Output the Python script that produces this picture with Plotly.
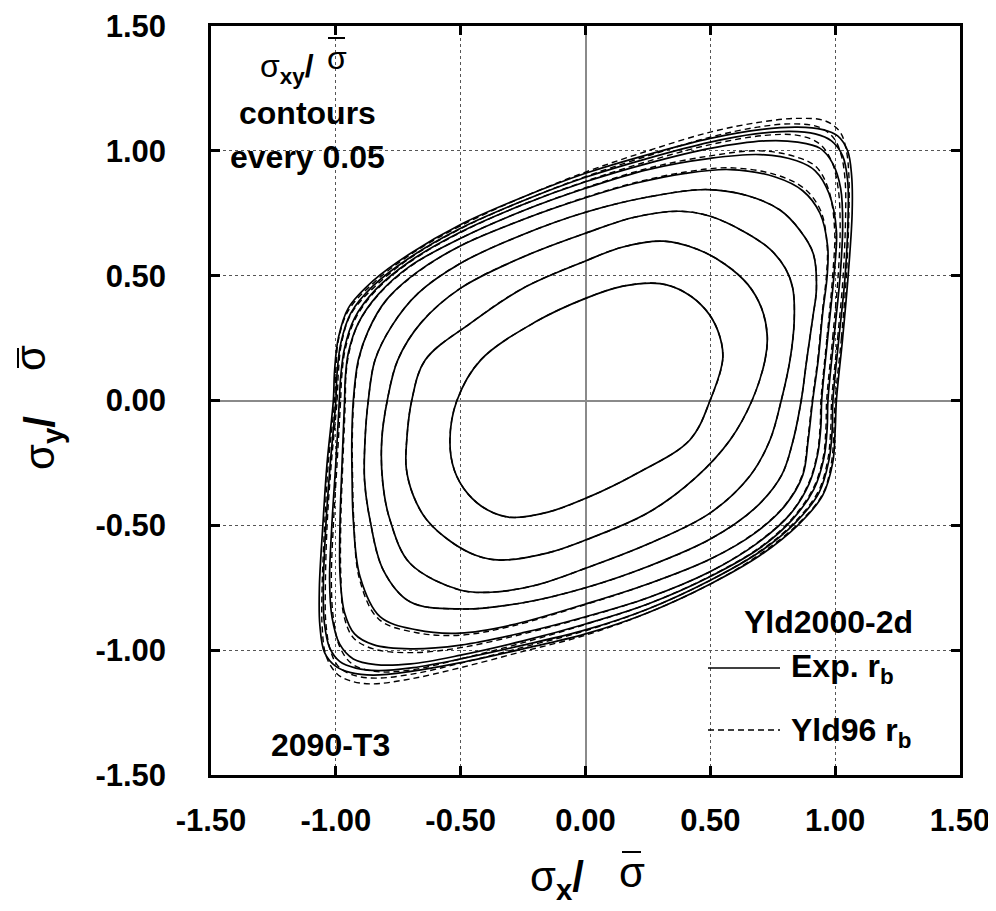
import plotly.graph_objects as go

# ---------------- data ----------------
LEVELS = [0.00, 0.05, 0.10, 0.15, 0.20, 0.25, 0.30, 0.35, 0.40]   # sigma_xy / sigma_bar
TICK_VALS = [-1.5, -1.0, -0.5, 0.0, 0.5, 1.0, 1.5]
TICK_TEXT = ["-1.50", "-1.00", "-0.50", "0.00", "0.50", "1.00", "1.50"]

# Yld2000-2d with experimental r_b (solid)
EXP_000 = [(1.005, 0.00), (1.030, 0.25), (1.052, 0.50), (1.068, 0.75), (1.066, 0.90), (1.050, 1.00),
           (1.010, 1.060), (0.950, 1.085), (0.850, 1.095), (0.700, 1.085), (0.500, 1.050), (0.250, 0.985),
           (0.000, 0.910), (-0.250, 0.815), (-0.500, 0.705), (-0.700, 0.590), (-0.850, 0.480), (-0.950, 0.370),
           (-0.990, 0.250), (-1.005, 0.120), (-1.010, 0.000), (-1.035, -0.250), (-1.052, -0.500), (-1.066, -0.750),
           (-1.064, -0.900), (-1.045, -1.010), (-1.000, -1.065), (-0.940, -1.090), (-0.850, -1.100), (-0.700, -1.085),
           (-0.500, -1.050), (-0.250, -0.995), (0.000, -0.935), (0.250, -0.850), (0.500, -0.735), (0.700, -0.620),
           (0.850, -0.500), (0.950, -0.380), (0.990, -0.250), (1.000, -0.120)]
EXP_005 = [(0.991, 0.00), (1.015, 0.25), (1.040, 0.50), (1.052, 0.75), (1.050, 0.88), (1.030, 0.98),
           (0.985, 1.040), (0.920, 1.068), (0.820, 1.078), (0.680, 1.068), (0.500, 1.035), (0.250, 0.970),
           (0.000, 0.894), (-0.250, 0.800), (-0.500, 0.690), (-0.700, 0.575), (-0.850, 0.460), (-0.940, 0.350),
           (-0.980, 0.230), (-0.995, 0.110), (-1.000, 0.000), (-1.022, -0.250), (-1.040, -0.500), (-1.050, -0.750),
           (-1.046, -0.890), (-1.025, -0.990), (-0.985, -1.045), (-0.920, -1.072), (-0.830, -1.082), (-0.690, -1.070),
           (-0.500, -1.035), (-0.250, -0.980), (0.000, -0.919), (0.250, -0.835), (0.500, -0.720), (0.700, -0.605),
           (0.840, -0.490), (0.935, -0.370), (0.975, -0.240), (0.988, -0.120)]
EXP_010 = [(0.971, 0.00), (0.995, 0.25), (1.020, 0.50), (1.030, 0.70), (1.022, 0.85), (0.990, 0.950),
           (0.940, 1.010), (0.850, 1.035), (0.720, 1.040), (0.500, 1.010), (0.250, 0.950), (0.000, 0.876),
           (-0.250, 0.785), (-0.500, 0.675), (-0.700, 0.560), (-0.840, 0.445), (-0.925, 0.330), (-0.965, 0.210),
           (-0.980, 0.100), (-0.986, 0.000), (-1.000, -0.250), (-1.016, -0.500), (-1.025, -0.720), (-1.015, -0.870),
           (-0.985, -0.975), (-0.930, -1.035), (-0.840, -1.058), (-0.700, -1.055), (-0.500, -1.020), (-0.250, -0.963),
           (0.000, -0.895), (0.250, -0.815), (0.500, -0.705), (0.700, -0.590), (0.830, -0.475), (0.915, -0.355),
           (0.955, -0.230), (0.968, -0.110)]
EXP_015 = [(0.946, 0.00), (0.970, 0.25), (0.995, 0.50), (1.005, 0.68), (0.975, 0.830), (0.920, 0.920),
           (0.846, 0.960), (0.700, 0.985), (0.500, 0.970), (0.250, 0.925), (0.000, 0.850), (-0.250, 0.760),
           (-0.500, 0.650), (-0.700, 0.540), (-0.830, 0.425), (-0.910, 0.310), (-0.950, 0.190), (-0.962, 0.090),
           (-0.965, 0.000), (-0.975, -0.250), (-0.983, -0.480), (-0.983, -0.700), (-0.965, -0.850), (-0.925, -0.935),
           (-0.850, -0.978), (-0.700, -0.995), (-0.500, -0.980), (-0.250, -0.930), (0.000, -0.866), (0.250, -0.790),
           (0.500, -0.685), (0.690, -0.570), (0.820, -0.455), (0.895, -0.335), (0.930, -0.215), (0.943, -0.100)]
EXP_020 = [(0.910, 0.00), (0.932, 0.162), (0.950, 0.35), (0.968, 0.50), (0.970, 0.616), (0.939, 0.750),
           (0.870, 0.840), (0.760, 0.895), (0.579, 0.925), (0.400, 0.910), (0.200, 0.870), (0.000, 0.812),
           (-0.250, 0.725), (-0.500, 0.620), (-0.680, 0.510), (-0.800, 0.400), (-0.870, 0.280), (-0.910, 0.162),
           (-0.930, 0.000), (-0.936, -0.158), (-0.935, -0.300), (-0.930, -0.479), (-0.903, -0.706), (-0.823, -0.866),
           (-0.676, -0.919), (-0.503, -0.932), (-0.300, -0.900), (0.000, -0.815), (0.250, -0.735), (0.500, -0.635),
           (0.680, -0.530), (0.800, -0.420), (0.870, -0.300), (0.892, -0.158)]
EXP_025 = [(0.864, 0.00), (0.886, 0.162), (0.910, 0.33), (0.925, 0.45), (0.912, 0.589), (0.860, 0.680),
           (0.779, 0.763), (0.650, 0.820), (0.485, 0.845), (0.250, 0.815), (0.000, 0.754), (-0.250, 0.665),
           (-0.500, 0.550), (-0.670, 0.430), (-0.775, 0.300), (-0.843, 0.162), (-0.870, 0.000), (-0.883, -0.158),
           (-0.885, -0.320), (-0.863, -0.479), (-0.810, -0.679), (-0.703, -0.806), (-0.503, -0.835), (-0.250, -0.810),
           (0.000, -0.750), (0.250, -0.665), (0.500, -0.555), (0.680, -0.430), (0.785, -0.300), (0.832, -0.158)]
EXP_030 = [(0.784, 0.00), (0.819, 0.162), (0.836, 0.320), (0.830, 0.450), (0.800, 0.530), (0.740, 0.605),
           (0.646, 0.670), (0.500, 0.738), (0.378, 0.758), (0.200, 0.735), (0.000, 0.670), (-0.250, 0.575),
           (-0.500, 0.450), (-0.660, 0.310), (-0.752, 0.162), (-0.794, 0.000), (-0.816, -0.158), (-0.812, -0.330),
           (-0.783, -0.479), (-0.703, -0.652), (-0.503, -0.759), (-0.380, -0.768), (-0.200, -0.740), (0.000, -0.672),
           (0.250, -0.575), (0.500, -0.450), (0.660, -0.300), (0.739, -0.158)]
EXP_035 = [(0.667, 0.000), (0.719, 0.162), (0.728, 0.260), (0.705, 0.370), (0.650, 0.465), (0.560, 0.545),
           (0.450, 0.605), (0.312, 0.638), (0.150, 0.615), (0.000, 0.559), (-0.250, 0.450), (-0.460, 0.310),
           (-0.642, 0.162), (-0.696, 0.000), (-0.716, -0.158), (-0.718, -0.270), (-0.690, -0.380), (-0.636, -0.478),
           (-0.540, -0.565), (-0.440, -0.620), (-0.342, -0.639), (-0.150, -0.610), (0.000, -0.559), (0.250, -0.450),
           (0.440, -0.310), (0.579, -0.158)]
EXP_040 = [(0.499, 0.000), (0.550, 0.170), (0.530, 0.280), (0.480, 0.365), (0.400, 0.432), (0.300, 0.468),
           (0.150, 0.458), (0.000, 0.409), (-0.200, 0.315), (-0.420, 0.162), (-0.515, 0.000), (-0.543, -0.158),
           (-0.525, -0.280), (-0.470, -0.375), (-0.390, -0.440), (-0.300, -0.468), (-0.150, -0.447), (0.000, -0.392),
           (0.200, -0.295), (0.418, -0.158)]

# Yld2000-2d with r_b from Yld96 (dashed)
YLD96_000 = [(1.000, 0.00), (1.025, 0.25), (1.045, 0.50), (1.055, 0.75), (1.055, 0.90), (1.045, 1.00),
             (1.020, 1.075), (0.960, 1.120), (0.850, 1.130), (0.700, 1.115), (0.500, 1.075), (0.250, 1.000),
             (0.000, 0.915), (-0.250, 0.815), (-0.500, 0.700), (-0.700, 0.585), (-0.850, 0.470), (-0.950, 0.360),
             (-0.990, 0.240), (-1.000, 0.120), (-1.005, 0.000), (-1.030, -0.250), (-1.045, -0.500), (-1.055, -0.750),
             (-1.055, -0.900), (-1.040, -1.020), (-1.000, -1.090), (-0.950, -1.120), (-0.860, -1.135), (-0.700, -1.115),
             (-0.500, -1.070), (-0.250, -1.005), (0.000, -0.940), (0.250, -0.850), (0.500, -0.735), (0.700, -0.615),
             (0.850, -0.495), (0.950, -0.375), (0.985, -0.250), (0.995, -0.120)]
YLD96_005 = [(0.986, 0.00), (1.010, 0.25), (1.032, 0.50), (1.042, 0.75), (1.040, 0.88), (1.025, 0.98),
             (0.995, 1.050), (0.935, 1.095), (0.830, 1.108), (0.690, 1.095), (0.500, 1.055), (0.250, 0.980),
             (0.000, 0.897), (-0.250, 0.800), (-0.500, 0.688), (-0.700, 0.572), (-0.845, 0.455), (-0.940, 0.345),
             (-0.978, 0.225), (-0.990, 0.110), (-0.995, 0.000), (-1.018, -0.250), (-1.035, -0.500), (-1.042, -0.750),
             (-1.040, -0.890), (-1.022, -1.000), (-0.990, -1.065), (-0.930, -1.100), (-0.840, -1.112), (-0.690, -1.095),
             (-0.500, -1.052), (-0.250, -0.988), (0.000, -0.922), (0.250, -0.835), (0.500, -0.720), (0.700, -0.602),
             (0.840, -0.485), (0.932, -0.365), (0.970, -0.240), (0.982, -0.120)]
YLD96_010 = [(0.966, 0.00), (0.990, 0.25), (1.012, 0.50), (1.020, 0.70), (1.012, 0.85), (0.985, 0.960),
             (0.935, 1.030), (0.850, 1.062), (0.720, 1.062), (0.500, 1.025), (0.250, 0.958), (0.000, 0.878),
             (-0.250, 0.785), (-0.500, 0.673), (-0.700, 0.557), (-0.838, 0.442), (-0.922, 0.327), (-0.962, 0.207),
             (-0.976, 0.100), (-0.981, 0.000), (-0.995, -0.250), (-1.010, -0.500), (-1.018, -0.720), (-1.010, -0.870),
             (-0.985, -0.985), (-0.935, -1.055), (-0.845, -1.085), (-0.705, -1.080), (-0.500, -1.035), (-0.250, -0.970),
             (0.000, -0.897), (0.250, -0.815), (0.500, -0.703), (0.700, -0.587), (0.828, -0.472), (0.912, -0.352),
             (0.952, -0.228), (0.963, -0.110)]
YLD96_015 = [(0.943, 0.00), (0.967, 0.25), (0.990, 0.50), (0.998, 0.68), (0.975, 0.840), (0.925, 0.935),
             (0.846, 0.975), (0.700, 1.000), (0.500, 0.980), (0.250, 0.930), (0.000, 0.852), (-0.250, 0.760),
             (-0.500, 0.650), (-0.700, 0.538), (-0.830, 0.423), (-0.910, 0.308), (-0.948, 0.188), (-0.960, 0.090),
             (-0.962, 0.000), (-0.972, -0.250), (-0.980, -0.480), (-0.980, -0.700), (-0.968, -0.860), (-0.930, -0.950),
             (-0.850, -0.995), (-0.700, -1.010), (-0.500, -0.990), (-0.250, -0.935), (0.000, -0.868), (0.250, -0.790),
             (0.500, -0.685), (0.690, -0.568), (0.820, -0.453), (0.893, -0.333), (0.928, -0.213), (0.940, -0.100)]
YLD96_020 = [(0.908, 0.00), (0.930, 0.162), (0.948, 0.35), (0.965, 0.50), (0.968, 0.616), (0.942, 0.760),
             (0.875, 0.850), (0.760, 0.905), (0.579, 0.932), (0.400, 0.915), (0.200, 0.873), (0.000, 0.814),
             (-0.250, 0.725), (-0.500, 0.620), (-0.680, 0.508), (-0.800, 0.398), (-0.870, 0.278), (-0.908, 0.162),
             (-0.928, 0.000), (-0.934, -0.158), (-0.933, -0.300), (-0.928, -0.479), (-0.905, -0.716), (-0.828, -0.876),
             (-0.676, -0.930), (-0.503, -0.940), (-0.300, -0.905), (0.000, -0.817), (0.250, -0.735), (0.500, -0.635),
             (0.680, -0.528), (0.800, -0.418), (0.868, -0.298), (0.890, -0.158)]
YLD96_025 = EXP_025
YLD96_030 = EXP_030
YLD96_035 = EXP_035
YLD96_040 = EXP_040

EXP_CURVES = [EXP_000, EXP_005, EXP_010, EXP_015, EXP_020, EXP_025, EXP_030, EXP_035, EXP_040]
YLD96_CURVES = [YLD96_000, YLD96_005, YLD96_010, YLD96_015, YLD96_020, YLD96_025, YLD96_030, YLD96_035, YLD96_040]

# ---------------- figure ----------------
FONT = "Liberation Sans, Arial, Helvetica, sans-serif"
fig = go.Figure()


def closed(pts):
    xs = [p[0] for p in pts] + [pts[0][0]]
    ys = [p[1] for p in pts] + [pts[0][1]]
    return xs, ys


for lvl, pts in zip(LEVELS, YLD96_CURVES):
    xs, ys = closed(pts)
    fig.add_trace(go.Scatter(x=xs, y=ys, mode="lines", showlegend=False, hoverinfo="skip",
                             name=f"Yld96 r_b {lvl:.2f}",
                             line=dict(color="black", width=1.4, dash="6px,4px", shape="spline", smoothing=1.0)))
for lvl, pts in zip(LEVELS, EXP_CURVES):
    xs, ys = closed(pts)
    fig.add_trace(go.Scatter(x=xs, y=ys, mode="lines", showlegend=False, hoverinfo="skip",
                             name=f"Exp. r_b {lvl:.2f}",
                             line=dict(color="black", width=1.7, shape="spline", smoothing=1.0)))

axis_common = dict(
    range=[-1.5, 1.5], tickmode="array", tickvals=TICK_VALS, ticktext=TICK_TEXT,
    showgrid=True, gridcolor="#555555", gridwidth=1.3, griddash="dot",
    zeroline=True, zerolinecolor="#8a8a8a", zerolinewidth=1.5,
    showline=True, linecolor="black", linewidth=2.5, mirror="ticks",
    ticks="inside", ticklen=9, tickwidth=2.5, tickcolor="black",
    tickfont=dict(family=FONT, size=31, color="black", weight="bold"),
    fixedrange=True,
)
fig.update_xaxes(**axis_common, ticklabelstandoff=16)
fig.update_yaxes(**axis_common, ticklabelstandoff=36)

PW = 749.0


def px(xpage):
    return (xpage - 211) / PW


def py(ypage):
    return (775 - ypage) / PW


ann = []
bold = dict(family=FONT, size=32, color="black", weight="bold")
sig32 = dict(family=FONT, size=32, color="black")
sig42 = dict(family=FONT, size=42, color="black")
# top-left label
ann.append(dict(text="σ<b><sub>xy</sub>/</b>", x=px(258), y=py(68), xanchor="left", font=sig32))
ann.append(dict(text="σ", x=px(337), y=py(58), font=sig32))
ann.append(dict(text="contours", x=px(307), y=py(113), font=bold))
ann.append(dict(text="every 0.05", x=px(307), y=py(157), font=bold))
# legend block
ann.append(dict(text="Yld2000-2d", x=px(828), y=py(622), font=bold))
ann.append(dict(text="Exp. r<sub>b</sub>", x=px(789), y=py(668), xanchor="left", font=bold))
ann.append(dict(text="Yld96 r<sub>b</sub>", x=px(789), y=py(732), xanchor="left", font=bold))
ann.append(dict(text="2090-T3", x=px(330), y=py(745), font=bold))
# axis titles
ann.append(dict(text="σ<b><sub>x</sub>/</b>", x=px(528), y=py(880), xanchor="left", font=sig42))
ann.append(dict(text="σ", x=px(632), y=py(872), font=sig42))
ann.append(dict(text="σ<b><sub>y</sub>/</b>", x=px(42), y=py(472), yanchor="bottom", textangle=-90, font=sig42))
ann.append(dict(text="σ", x=px(30), y=py(358), textangle=-90, font=sig42))
for a in ann:
    a.setdefault("xanchor", "center")
    a.setdefault("yanchor", "middle")
    a.update(xref="paper", yref="paper", showarrow=False)
fig.update_layout(annotations=ann)

# bars over sigma (sigma-bar)
bar = dict(color="black", width=2)
fig.add_shape(type="line", xref="paper", yref="paper", x0=px(328), x1=px(345), y0=py(38), y1=py(38), line=bar)
fig.add_shape(type="line", xref="paper", yref="paper", x0=px(622), x1=px(641), y0=py(852), y1=py(852), line=bar)
fig.add_shape(type="line", xref="paper", yref="paper", x0=px(18), x1=px(18), y0=py(348), y1=py(368), line=bar)

# legend keys
fig.add_shape(type="line", xref="paper", yref="paper", x0=px(708), x1=px(780), y0=py(668), y1=py(668),
              line=dict(color="black", width=1.6))
fig.add_shape(type="line", xref="paper", yref="paper", x0=px(708), x1=px(780), y0=py(730), y1=py(730),
              line=dict(color="black", width=1.4, dash="6px,4px"))

fig.update_layout(
    width=988, height=903,
    margin=dict(l=203, r=36, t=18, b=136, autoexpand=False),
    paper_bgcolor="white", plot_bgcolor="white",
    showlegend=False,
)

fig.write_html("out.html")
